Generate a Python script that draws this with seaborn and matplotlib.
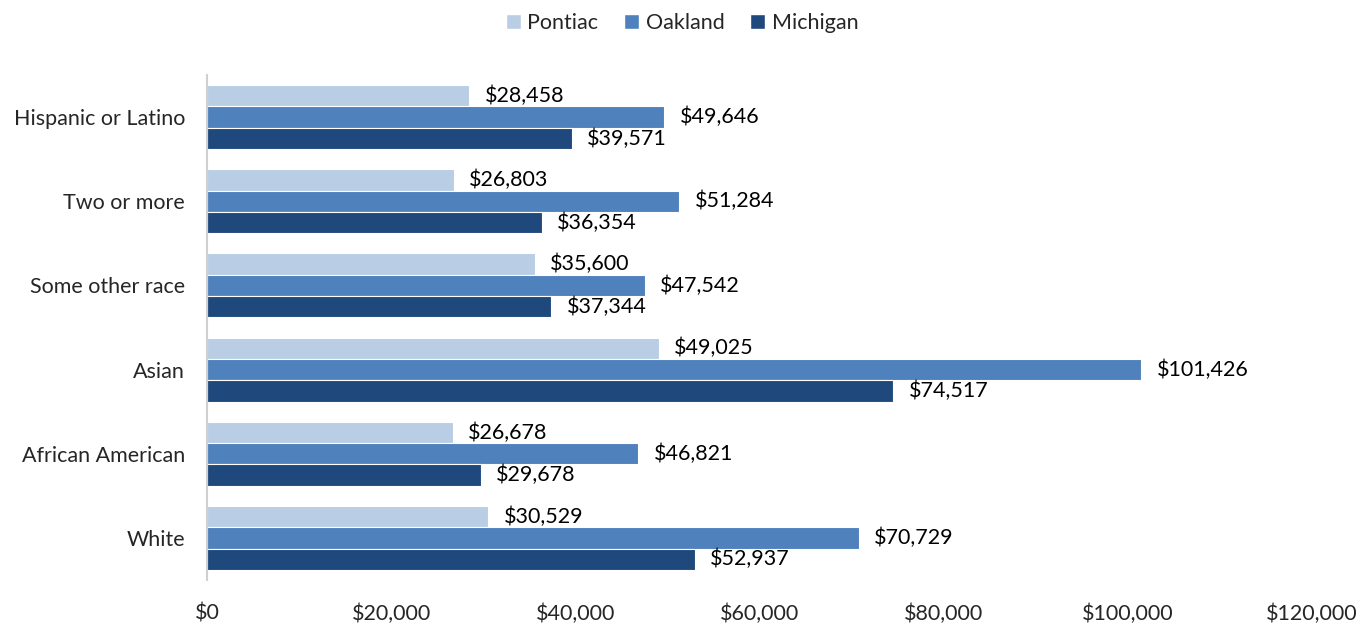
import pandas as pd
import seaborn as sns
import matplotlib.pyplot as plt
from matplotlib.patches import Patch

# data (top to bottom as drawn)
races = ['Hispanic or Latino', 'Two or more', 'Some other race',
         'Asian', 'African American', 'White']
pontiac = [28458, 26803, 35600, 49025, 26678, 30529]
oakland = [49646, 51284, 47542, 101426, 46821, 70729]
michigan = [39571, 36354, 37344, 74517, 29678, 52937]
places = ['Pontiac', 'Oakland', 'Michigan']
colors = ['#B9CDE5', '#4F81BD', '#1F497D']

df = pd.DataFrame({
    'race': races * 3,
    'place': [p for p in places for _ in races],
    'income': pontiac + oakland + michigan,
})

sns.set_style('white')
plt.rcParams['font.family'] = ['Lato', 'DejaVu Sans']
fs = 15.5

fig = plt.figure(figsize=(13.64, 6.25), dpi=100)
ax = fig.add_axes([0.152, 0.072, 0.81, 0.808])

sns.barplot(data=df, y='race', x='income', hue='place', order=races,
            hue_order=places, palette=colors, saturation=1, orient='h',
            width=0.76, edgecolor='white', linewidth=0.8, errorbar=None,
            ax=ax, legend=False)

for cont in ax.containers:
    ax.bar_label(cont, labels=[f'${v:,.0f}' for v in cont.datavalues],
                 padding=11, fontsize=fs, color='#000000')

ax.set_xlim(0, 120000)
ax.set_ylim(5.5, -0.5)
ax.set_xticks(range(0, 120001, 20000))
ax.set_xticklabels([f'${v:,}' for v in range(0, 120001, 20000)], fontsize=fs)
ax.tick_params(axis='x', length=0, pad=17)
ax.tick_params(axis='y', length=0, pad=16, labelsize=fs)
ax.set_xlabel('')
ax.set_ylabel('')

for side in ['top', 'right', 'bottom']:
    ax.spines[side].set_visible(False)
ax.spines['left'].set_color('#D0D0D0')
ax.spines['left'].set_linewidth(1.5)

handles = [Patch(facecolor=c, label=p) for p, c in zip(places, colors)]
fig.legend(handles=handles, loc='upper center', bbox_to_anchor=(0.5, 1.01),
           ncol=3, frameon=False, fontsize=fs, handlelength=0.7,
           handleheight=0.7, handletextpad=0.3, columnspacing=1.2)

fig.savefig('out.png', dpi=100)
